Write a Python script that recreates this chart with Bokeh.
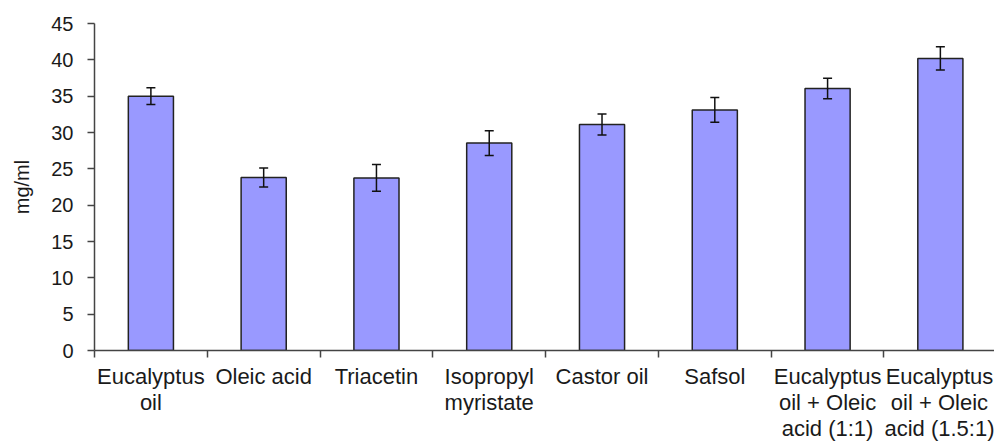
from bokeh.plotting import figure
from bokeh.models import Range1d, FixedTicker, Whisker, ColumnDataSource, TeeHead
from bokeh.embed import file_html
from bokeh.resources import INLINE

categories = ["Eucalyptus\noil", "Oleic acid", "Triacetin", "Isopropyl\nmyristate",
              "Castor oil", "Safsol", "Eucalyptus\noil + Oleic\nacid (1:1)",
              "Eucalyptus\noil + Oleic\nacid (1.5:1)"]
values = [35.0, 23.8, 23.75, 28.55, 31.1, 33.1, 36.05, 40.2]
errors = [1.15, 1.3, 1.85, 1.7, 1.45, 1.7, 1.4, 1.6]
y_ticks = [0, 5, 10, 15, 20, 25, 30, 35, 40, 45]

xs = [i + 0.5 for i in range(len(categories))]
src = ColumnDataSource(dict(
    x=xs, top=values,
    upper=[v + e for v, e in zip(values, errors)],
    lower=[v - e for v, e in zip(values, errors)],
))

p = figure(width=994, height=444, output_backend="svg", toolbar_location=None,
           x_range=Range1d(0, 7.98), y_range=Range1d(0, 45),
           min_border_left=94, min_border_top=23, min_border_right=0,
           min_border_bottom=93)
p.outline_line_color = None
p.xgrid.visible = False
p.ygrid.visible = False
p.background_fill_color = "white"

p.vbar(x="x", top="top", width=0.4, source=src, fill_color="#9999FF",
       line_color="#222222", line_width=1.5)

w = Whisker(source=src, base="x", upper="upper", lower="lower",
            line_color="#111111", line_width=1.5, level="overlay",
            upper_head=TeeHead(size=9, line_color="#111111", line_width=1.5),
            lower_head=TeeHead(size=9, line_color="#111111", line_width=1.5))
p.add_layout(w)

# x axis: labels at category centres, tick marks at category boundaries
xa = p.xaxis[0]
xa.ticker = FixedTicker(ticks=xs, minor_ticks=list(range(0, 9)))
xa.major_label_overrides = {x: c for x, c in zip(xs, categories)}
xa.major_tick_line_color = None
xa.major_tick_out = 7
xa.major_tick_in = 0
xa.minor_tick_out = 7
xa.minor_tick_in = 0
xa.minor_tick_line_color = "#444444"
xa.minor_tick_line_width = 1.5
xa.axis_line_color = "#444444"
xa.axis_line_width = 1.5
xa.major_label_text_font = "Liberation Sans"
xa.major_label_text_font_size = "22px"
xa.major_label_text_color = "#1a1a1a"
xa.major_label_text_line_height = 1.05
xa.major_label_standoff = 6
xa.major_label_orientation = "horizontal"

ya = p.yaxis[0]
ya.ticker = FixedTicker(ticks=y_ticks)
ya.major_tick_out = 7
ya.major_tick_in = 0
ya.minor_tick_line_color = None
ya.major_tick_line_color = "#444444"
ya.major_tick_line_width = 1.5
ya.axis_line_color = "#444444"
ya.axis_line_width = 1.5
ya.major_label_text_font = "Liberation Sans"
ya.major_label_text_font_size = "20px"
ya.major_label_text_color = "#1a1a1a"
ya.major_label_standoff = 14
ya.axis_label = "mg/ml"
ya.axis_label_text_font = "Liberation Sans"
ya.axis_label_text_font_size = "20px"
ya.axis_label_text_font_style = "normal"
ya.axis_label_text_color = "#1a1a1a"
ya.axis_label_standoff = 15

open("out.html", "w").write(file_html(p, INLINE))
